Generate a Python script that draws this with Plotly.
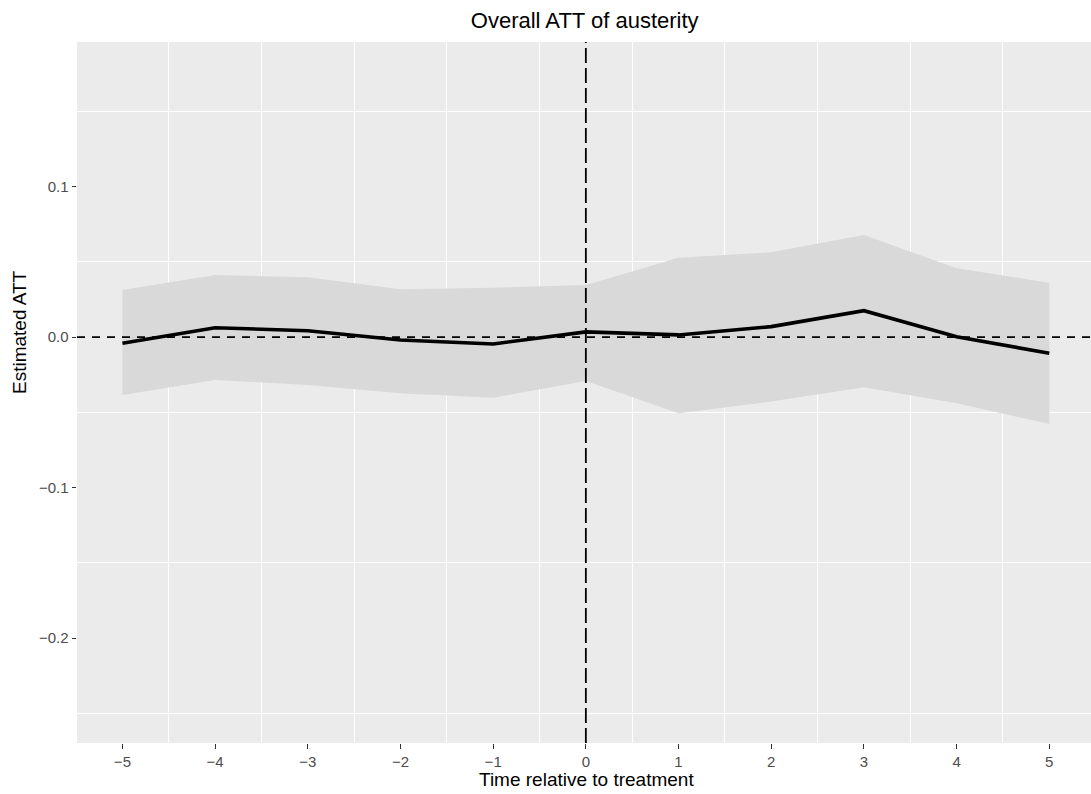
import plotly.graph_objects as go

time_rel = [-5, -4, -3, -2, -1, 0, 1, 2, 3, 4, 5]
att = [-0.0040, 0.0063, 0.0043, -0.0019, -0.0045, 0.0035, 0.0015, 0.0070, 0.0176, 0.0003, -0.0107]
ci_upper = [0.0314, 0.0413, 0.0398, 0.0318, 0.0329, 0.0347, 0.0528, 0.0564, 0.0679, 0.0458, 0.0362]
ci_lower = [-0.0384, -0.0284, -0.0318, -0.0373, -0.0402, -0.0291, -0.0506, -0.0428, -0.0333, -0.0439, -0.0577]

x_ticks = [-5, -4, -3, -2, -1, 0, 1, 2, 3, 4, 5]
x_ticklabels = ["\u22125", "\u22124", "\u22123", "\u22122", "\u22121", "0", "1", "2", "3", "4", "5"]
y_ticks = [-0.2, -0.1, 0.0, 0.1]
y_ticklabels = ["\u22120.2", "\u22120.1", "0.0", "0.1"]

FONT = "Liberation Sans, Arial, sans-serif"

fig = go.Figure()
fig.add_trace(go.Scatter(x=time_rel, y=ci_upper, mode="lines", line=dict(width=0),
                         hoverinfo="skip", showlegend=False))
fig.add_trace(go.Scatter(x=time_rel, y=ci_lower, mode="lines", line=dict(width=0),
                         fill="tonexty", fillcolor="#D9D9D9", hoverinfo="skip", showlegend=False))
fig.add_trace(go.Scatter(x=time_rel, y=att, mode="lines",
                         line=dict(color="black", width=3.6), showlegend=False))

fig.add_hline(y=0, line=dict(color="black", width=1.8, dash="8px,7px"))
fig.add_vline(x=0, line=dict(color="black", width=1.8, dash="15px,5px"))

axis_font = dict(family=FONT, size=15, color="#4D4D4D")

fig.add_annotation(text="Time relative to treatment", xref="paper", yref="paper",
                   x=0.5025, y=-0.0514, xanchor="center", yanchor="middle", showarrow=False,
                   font=dict(family=FONT, size=19, color="black"))
fig.add_annotation(text="Estimated ATT", xref="paper", yref="paper", textangle=-90,
                   x=-0.0572, y=0.5863, xanchor="center", yanchor="middle", showarrow=False,
                   font=dict(family=FONT, size=19, color="black"))

fig.update_layout(
    width=1091, height=794,
    margin=dict(l=77, r=0, t=42, b=51),
    paper_bgcolor="white", plot_bgcolor="#EBEBEB",
    font=dict(family=FONT, color="black"),
    title=dict(text="Overall ATT of austerity", xref="paper", x=0.5007, xanchor="center",
               yref="container", y=0.9748, yanchor="middle",
               font=dict(family=FONT, size=22, color="black")),
    xaxis=dict(range=[-5.49, 5.45], tickvals=x_ticks, ticktext=x_ticklabels,
               showgrid=False, zeroline=False, ticks="outside", ticklen=4.5, tickwidth=1.2,
               tickcolor="#333333", tickfont=axis_font,
               minor=dict(tick0=0.5, dtick=1, showgrid=True, gridcolor="white", gridwidth=1, ticks="")),
    yaxis=dict(range=[-0.2696, 0.1961], tickvals=y_ticks, ticktext=y_ticklabels,
               showgrid=False, zeroline=False, ticks="outside", ticklen=4.5, tickwidth=1.2,
               tickcolor="#333333", tickfont=axis_font,
               minor=dict(tick0=0.05, dtick=0.1, showgrid=True, gridcolor="white", gridwidth=1, ticks="")),
)

fig.write_html("out.html", config={"displayModeBar": False},
               post_script="document.body.style.margin='0';document.documentElement.style.overflow='hidden';document.body.style.overflow='hidden';")
